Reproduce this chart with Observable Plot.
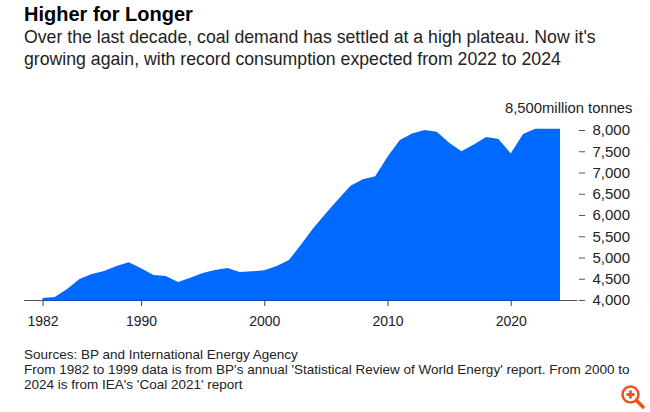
<!DOCTYPE html>
<html>
<head>
<meta charset="utf-8">
<script src="https://cdn.jsdelivr.net/npm/d3@7"></script>
<script src="https://cdn.jsdelivr.net/npm/@observablehq/plot@0.6"></script>
<style>
html,body{margin:0;padding:0;background:#fff;width:650px;height:412px;overflow:hidden;font-family:"Liberation Sans",sans-serif;color:#111}
#head{position:absolute;left:24px;top:0;width:620px}
#title{font-weight:700;font-size:20px;line-height:24px;margin-top:2px;color:#000}
#sub{font-size:17.7px;line-height:22px;margin-top:0px;color:#222}
#chart{position:absolute;left:0;top:90px}
#foot{position:absolute;left:24px;top:347px;width:626px;font-size:13.5px;line-height:15px;color:#222}
#icon{position:absolute;left:620px;top:384px}
</style>
</head>
<body>
<div id="head">
<div id="title">Higher for Longer</div>
<div id="sub">Over the last decade, coal demand has settled at a high plateau. Now it's<br>growing again, with record consumption expected from 2022 to 2024</div>
</div>
<div id="chart"></div>
<div id="foot">Sources: BP and International Energy Agency<br>From 1982 to 1999 data is from BP's annual 'Statistical Review of World Energy' report. From 2000 to<br>2024 is from IEA's 'Coal 2021' report</div>
<svg id="icon" width="26" height="26" viewBox="0 0 26 26"><circle cx="10.5" cy="10.5" r="8" fill="#fff" stroke="#f4511e" stroke-width="2.6"/><path d="M16.5 16.5L23 23" stroke="#f4511e" stroke-width="3.6" stroke-linecap="round"/><path d="M10.5 6.5v8M6.5 10.5h8" stroke="#f4511e" stroke-width="2.8"/></svg>
<script>
const years = [1982,1983,1984,1985,1986,1987,1988,1989,1990,1991,1992,1993,1994,1995,1996,1997,1998,1999,2000,2001,2002,2003,2004,2005,2006,2007,2008,2009,2010,2011,2012,2013,2014,2015,2016,2017,2018,2019,2020,2021,2022,2023,2024];
const demand = [4047,4070,4260,4495,4610,4680,4800,4886,4745,4590,4565,4425,4525,4635,4705,4753,4660,4675,4700,4800,4940,5310,5700,6040,6370,6690,6840,6910,7370,7765,7915,8000,7960,7700,7500,7660,7835,7790,7450,7905,8030,8030,8030];
const xTicks = [1982,1990,2000,2010,2020];
const yTicks = [4000,4500,5000,5500,6000,6500,7000,7500,8000];
const axisExtent = [1980.5,2025.4];
const topLabel = "8,500million tonnes";
const topValue = 8500;
const base = 4000;
const rows = years.map((year,i)=>({year,value:demand[i]}));

const plot = Plot.plot({
  width:650,height:240,
  marginLeft:42.5,marginRight:90,marginTop:18.75,marginBottom:30,
  style:{fontFamily:"Liberation Sans, sans-serif",background:"transparent",overflow:"visible"},
  x:{domain:[1982,2024]},
  y:{domain:[base,topValue]},
  marks:[
    Plot.ruleY([base],{x1:axisExtent[0],x2:axisExtent[1],stroke:"#555",strokeWidth:1.2}),
    Plot.areaY(rows,{x:"year",y1:base,y2:"value",fill:"#0069ff",curve:"linear"}),
    Plot.ruleY([base],{x1:1982,x2:2024,stroke:"#0a4fc0",strokeWidth:1}),
    Plot.axisX({ticks:xTicks,tickFormat:d=>String(d),tickSize:6,tickPadding:10,fontSize:14,color:"#222",stroke:"#444",label:null}),
    Plot.axisY({ticks:yTicks,anchor:"right",tickFormat:d3.format(","),tickSize:6,tickPadding:8,dx:18,fontSize:15,color:"#222",stroke:"#555",label:null}),
    Plot.text([topLabel],{frameAnchor:"right",y:()=>topValue,textAnchor:"end",dx:72,dy:-1,fontSize:14.8,fill:"#222"})
  ]
});
document.getElementById("chart").appendChild(plot);
</script>
</body>
</html>
